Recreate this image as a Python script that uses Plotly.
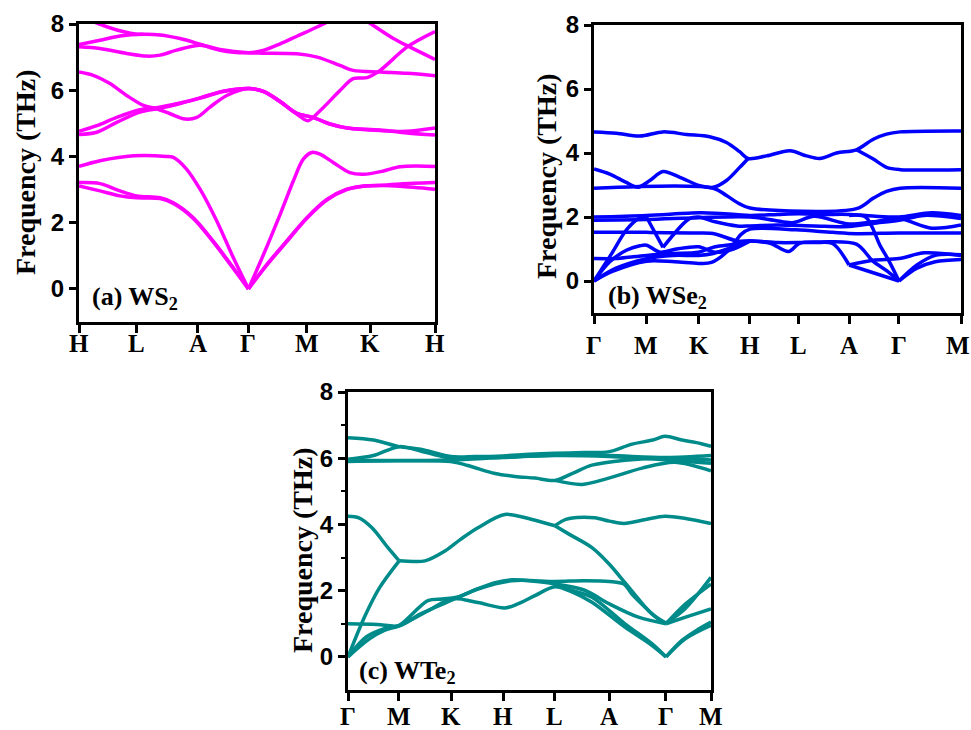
import plotly.graph_objects as go

# ---------------- data ----------------
# (a) WS2 : path H-L-A-Γ-M-K-H
ws2_tick_k = [0, 0.162, 0.334, 0.476, 0.640, 0.818, 1.0]
ws2_tick_lbl = ["H", "L", "A", "Γ", "M", "K", "H"]
ws2_bands = [
    [(0,3.70),(0.059,3.87),(0.153,4.02),(0.246,4.0),(0.265,3.97),(0.302,3.62),(0.340,3.01),(0.387,2.05),(0.434,0.93),(0.476,0)],
    [(0.476,0),(0.518,1.03),(0.565,2.25),(0.602,3.26),(0.630,3.92),(0.654,4.12),(0.677,4.07),(0.714,3.82),(0.761,3.51),(0.799,3.46),(0.855,3.56),(0.902,3.69),(1.0,3.70)],
    [(0,3.21),(0.059,3.18),(0.115,2.96),(0.162,2.81),(0.228,2.75),(0.265,2.6),(0.321,2.15),(0.377,1.44),(0.434,0.63),(0.476,0)],
    [(0,3.11),(0.059,2.96),(0.115,2.81),(0.162,2.75),(0.228,2.73),(0.265,2.58),(0.321,2.13),(0.377,1.42),(0.434,0.61),(0.476,0)],
    [(0.476,0),(0.527,0.73),(0.583,1.44),(0.640,2.15),(0.696,2.7),(0.752,3.01),(0.799,3.11),(0.855,3.13),(0.902,3.17),(1.0,3.21)],
    [(0.476,0),(0.527,0.71),(0.583,1.42),(0.640,2.13),(0.696,2.68),(0.752,3.0),(0.799,3.1),(0.855,3.12),(0.902,3.1),(1.0,3.01)],
    [(0,6.55),(0.040,6.45),(0.087,6.20),(0.134,5.84),(0.181,5.54),(0.218,5.44),(0.256,5.29),(0.298,5.13),(0.331,5.18),(0.368,5.49),(0.415,5.84),(0.476,6.05),(0.52,5.95),(0.565,5.65),(0.612,5.28),(0.643,5.08),(0.677,5.38),(0.733,5.99),(0.770,6.35),(0.809,6.38),(0.846,6.6),(0.921,7.3),(1.0,7.77)],
    [(0,4.76),(0.050,4.93),(0.106,5.18),(0.171,5.41),(0.218,5.47),(0.274,5.59),(0.340,5.77),(0.405,5.97),(0.476,6.05),(0.52,5.96),(0.565,5.66),(0.612,5.3),(0.657,5.18),(0.705,4.98),(0.753,4.86),(0.846,4.8),(0.921,4.71),(1.0,4.65)],
    [(0,4.66),(0.050,4.73),(0.106,5.03),(0.171,5.34),(0.218,5.44),(0.274,5.57),(0.340,5.76),(0.405,5.96),(0.476,6.05),(0.52,5.96),(0.565,5.66),(0.612,5.3),(0.657,5.18),(0.705,4.98),(0.753,4.86),(0.846,4.78),(0.921,4.76),(1.0,4.86)],
    [(0,7.38),(0.059,7.51),(0.115,7.64),(0.181,7.69),(0.228,7.67),(0.284,7.56),(0.340,7.39),(0.396,7.21),(0.476,7.13),(0.517,7.2),(0.565,7.4),(0.612,7.63),(0.669,7.91),(0.705,8.1),(0.74,8.3)],
    [(0,7.31),(0.059,7.26),(0.134,7.11),(0.190,7.03),(0.228,7.06),(0.274,7.21),(0.340,7.36),(0.396,7.23),(0.476,7.13),(0.517,7.12),(0.612,7.1),(0.669,7.0),(0.733,6.75),(0.770,6.6),(0.846,6.55),(0.921,6.51),(1.0,6.44)],
    [(0,8.25),(0.067,7.96),(0.12,7.78),(0.163,7.69),(0.181,7.69)],
    [(0.78,8.3),(0.826,7.96),(0.882,7.57),(0.93,7.3),(1.0,6.93)],
]

# (b) WSe2 : path Γ-M-K-H-L-A-Γ-M
wse2_tick_k = [0, 0.143, 0.285, 0.425, 0.558, 0.695, 0.831, 1.0]
wse2_tick_lbl = ["Γ", "M", "K", "H", "L", "A", "Γ", "M"]
wse2_bands = [
    [(0,4.66),(0.061,4.62),(0.125,4.53),(0.188,4.66),(0.252,4.58),(0.315,4.51),(0.361,4.33),(0.397,4.04),(0.42,3.83),(0.47,3.91),(0.534,4.07),(0.579,3.91),(0.615,3.83),(0.661,4.0),(0.715,4.10),(0.761,4.43),(0.797,4.59),(0.834,4.66),(1.0,4.69)],
    [(0,3.50),(0.043,3.34),(0.088,3.08),(0.12,2.93),(0.152,3.14),(0.188,3.42),(0.234,3.24),(0.288,2.98),(0.325,2.93),(0.361,3.14),(0.397,3.55),(0.42,3.83)],
    [(0.715,4.10),(0.761,3.81),(0.797,3.55),(0.834,3.48),(1.0,3.48)],
    [(0,2.90),(0.325,2.90),(0.361,2.67),(0.397,2.41),(0.425,2.28),(0.715,2.26),(0.761,2.59),(0.797,2.80),(0.834,2.90),(1.0,2.90)],
    [(0,2.0),(0.143,2.05),(0.285,2.13),(0.33,2.12),(0.425,2.05),(0.5,2.08),(0.558,2.1),(0.62,2.08),(0.695,2.08),(0.76,2.03),(0.831,2.0),(0.92,2.13),(1.0,2.05)],
    [(0,1.9),(0.143,1.92),(0.285,1.98),(0.425,2.0),(0.49,1.9),(0.54,1.82),(0.6,2.02),(0.695,1.78),(0.76,1.85),(0.831,1.95),(0.92,1.65),(1.0,1.75)],
    [(0,1.52),(0.143,1.52),(0.285,1.5),(0.33,1.47),(0.39,1.25),(0.425,1.25),(0.48,1.18),(0.53,0.92),(0.56,1.18),(0.62,1.22),(0.715,1.15),(0.76,0.62),(0.8,0.3),(0.831,0)],
    [(0.831,0),(0.88,0.4),(0.93,0.6),(1.0,0.67)],
    [(0,0),(0.05,0.3),(0.143,0.62),(0.22,0.6),(0.285,0.55),(0.32,0.58),(0.37,1.0),(0.4,1.45),(0.425,1.62),(0.55,1.6),(0.65,1.52),(0.715,1.48),(0.831,1.5),(1.0,1.5)],
    [(0,0),(0.045,0.8),(0.09,1.62),(0.125,1.97),(0.143,2.0)],
    [(0.143,2.0),(0.188,1.05)],
    [(0.188,1.05),(0.26,1.95),(0.285,2.0),(0.33,1.85),(0.39,1.72),(0.425,1.72),(0.5,1.75),(0.6,1.72),(0.695,1.7),(0.76,1.8),(0.831,1.9),(0.9,2.05),(1.0,1.95)],
    [(0,0.7),(0.06,0.7),(0.1,0.75),(0.143,0.8),(0.21,0.86),(0.285,0.9),(0.33,1.07),(0.38,1.15),(0.425,1.25),(0.5,1.2),(0.6,1.2),(0.65,1.17),(0.695,0.5)],
    [(0.695,0.5),(0.831,0)],
    [(0.695,0.5),(0.76,0.65),(0.831,0.7),(0.9,0.88),(1.0,0.8)],
    [(0,0),(0.043,0.6),(0.088,0.96),(0.125,1.1),(0.143,1.12),(0.18,0.9),(0.225,1.0),(0.285,1.07),(0.33,0.9),(0.38,1.0),(0.425,1.25)],
    [(0,0),(0.06,0.4),(0.143,0.7),(0.215,0.8),(0.285,0.8),(0.325,0.86),(0.38,1.07),(0.425,1.25)],
    [(0.695,2.05),(0.74,2.0),(0.78,1.1),(0.805,0.6),(0.831,0)],
    [(0.831,0),(0.88,0.5),(0.93,0.8),(1.0,0.82)],
]

# (c) WTe2 : path Γ-M-K-H-L-A-Γ-M
wte2_tick_k = [0, 0.140, 0.284, 0.427, 0.570, 0.719, 0.876, 1.0]
wte2_tick_lbl = ["Γ", "M", "K", "H", "L", "A", "Γ", "M"]
wte2_bands = [
    [(0,6.62),(0.07,6.55),(0.141,6.35),(0.2,6.27),(0.283,6.05),(0.35,6.05),(0.426,6.07),(0.5,6.12),(0.57,6.15),(0.65,6.17),(0.72,6.2),(0.78,6.42),(0.84,6.55),(0.873,6.66),(0.92,6.55),(0.96,6.47),(1.0,6.36)],
    [(0,5.97),(0.07,6.08),(0.141,6.35),(0.2,6.22),(0.27,6.03),(0.35,6.02),(0.426,6.03),(0.57,6.1),(0.72,6.08),(0.876,6.02),(1.0,6.08)],
    [(0,5.9),(0.141,5.92),(0.283,5.9),(0.33,5.78),(0.405,5.54),(0.46,5.45),(0.515,5.4),(0.57,5.33),(0.62,5.55),(0.672,5.79),(0.763,5.94),(0.876,6.0),(1.0,5.95)],
    [(0.57,5.33),(0.645,5.21),(0.716,5.39),(0.81,5.7),(0.9,5.88),(1.0,5.62)],
    [(0,5.95),(0.141,5.93),(0.283,5.95),(0.426,6.02),(0.57,6.08),(0.72,6.05),(0.876,5.95),(1.0,5.85)],
    [(0,4.25),(0.03,4.2),(0.066,3.9),(0.11,3.3),(0.141,2.9)],
    [(0.141,2.9),(0.18,2.88),(0.212,2.9),(0.267,3.2),(0.31,3.55),(0.358,3.9),(0.432,4.3),(0.507,4.15),(0.57,3.96)],
    [(0.57,3.96),(0.6,4.15),(0.63,4.21),(0.68,4.2),(0.72,4.1),(0.76,4.03),(0.82,4.15),(0.873,4.25),(0.93,4.18),(1.0,4.03)],
    [(0,0),(0.047,1.24),(0.087,2.09),(0.141,2.9)],
    [(0.57,3.96),(0.61,3.7),(0.672,3.3),(0.72,2.8),(0.763,2.24),(0.80,1.75),(0.837,1.3),(0.876,1.02)],
    [(0.876,1.02),(0.928,1.45),(1.0,2.4)],
    [(0,0),(0.05,0.6),(0.1,0.85),(0.141,0.95),(0.22,1.7),(0.26,1.75),(0.3,1.8),(0.358,2.06),(0.405,2.24),(0.452,2.33),(0.5,2.3),(0.57,2.2),(0.62,2.0),(0.672,1.8),(0.763,1.0),(0.837,0.4),(0.876,0)],
    [(0,0),(0.06,0.55),(0.1,0.8),(0.141,0.94),(0.22,1.39),(0.287,1.76),(0.358,1.64),(0.432,1.48),(0.468,1.6),(0.515,1.85),(0.57,2.12),(0.62,1.95),(0.672,1.65),(0.763,0.9),(0.837,0.35),(0.876,0)],
    [(0,1.0),(0.08,0.98),(0.141,0.94),(0.2,1.3),(0.287,1.72),(0.358,2.05),(0.45,2.3),(0.57,2.28),(0.65,2.3),(0.72,2.28),(0.76,2.2),(0.782,1.9),(0.854,1.15),(0.876,1.0)],
    [(0.57,2.2),(0.65,2.02),(0.72,1.6),(0.8,1.2),(0.876,1.0)],
    [(0.876,1.0),(0.93,1.2),(1.0,1.45)],
    [(0.876,1.0),(0.93,1.6),(1.0,2.2)],
    [(0.876,0),(0.92,0.5),(0.96,0.8),(1.0,1.05)],
    [(0.876,0),(0.93,0.55),(1.0,0.95)],
]

freq_ticks = [0, 2, 4, 6, 8]

# ---------------- figure ----------------
W, H = 971, 730

def px(v):
    return v / W

def py(v):
    return 1 - v / H

fig = go.Figure()

panels = [
    dict(bands=ws2_bands, tk=ws2_tick_k, tl=ws2_tick_lbl, color="#FF00FF",
         xd=(79, 435), yd=(24, 322), label="(a) WS<sub>2</sub>", lab_xy=(90, 298),
         yt_xy=(25, 172), xl_y=343, minor=False),
    dict(bands=wse2_bands, tk=wse2_tick_k, tl=wse2_tick_lbl, color="#0000FF",
         xd=(594, 961), yd=(25, 313), label="(b) WSe<sub>2</sub>", lab_xy=(606, 297),
         yt_xy=(546, 176), xl_y=345, minor=False),
    dict(bands=wte2_bands, tk=wte2_tick_k, tl=wte2_tick_lbl, color="#008B8B",
         xd=(348, 711), yd=(392, 690), label="(c) WTe<sub>2</sub>", lab_xy=(357, 672),
         yt_xy=(302, 550), xl_y=716, minor=True),
]

layout = dict(width=W, height=H, margin=dict(l=0, r=0, t=0, b=0, autoexpand=False),
              paper_bgcolor="white", plot_bgcolor="white", showlegend=False)
annotations = []

for i, p in enumerate(panels):
    n = "" if i == 0 else str(i + 1)
    xa, ya = "x" + n, "y" + n
    for band in p["bands"]:
        fig.add_trace(go.Scatter(
            x=[pt[0] for pt in band], y=[pt[1] for pt in band],
            mode="lines", line=dict(color=p["color"], width=3.5, shape="spline", smoothing=0.9),
            xaxis=xa, yaxis=ya, hoverinfo="skip"))
    layout["xaxis" + n] = dict(
        domain=[px(p["xd"][0]), px(p["xd"][1])], anchor=ya, range=[0, 1],
        tickvals=p["tk"], showticklabels=False, ticks="outside", ticklen=8, tickwidth=2.5,
        tickcolor="black", showline=True, linewidth=3, linecolor="black", mirror=True,
        showgrid=False, zeroline=False, automargin=False)
    ya_dict = dict(
        domain=[py(p["yd"][1]), py(p["yd"][0])], anchor=xa, range=[-1, 8],
        tickvals=freq_ticks, ticks="outside", ticklen=7, tickwidth=2.5, tickcolor="black",
        showline=True, linewidth=3, linecolor="black", mirror=True,
        showgrid=False, zeroline=False, automargin=False,
        tickfont=dict(family="Liberation Sans", size=24, color="black", weight="bold"))
    if p["minor"]:
        ya_dict["minor"] = dict(tickvals=[1, 3, 5, 7], ticks="outside", ticklen=4,
                                tickwidth=2, tickcolor="black")
    layout["yaxis" + n] = ya_dict
    # high-symmetry point labels
    last = len(p["tk"]) - 1
    for j, (k, lbl) in enumerate(zip(p["tk"], p["tl"])):
        annotations.append(dict(
            text=lbl, x=k, xref=xa, y=py(p["xl_y"]), yref="paper", showarrow=False,
            xanchor="center", yanchor="middle", xshift=(-3 if (i == 1 and j == last) else 0),
            font=dict(family="Liberation Serif", size=25, color="black", weight="bold")))
    annotations.append(dict(
        text="Frequency (THz)", x=px(p["yt_xy"][0]), y=py(p["yt_xy"][1]),
        xref="paper", yref="paper", textangle=-90, showarrow=False,
        xanchor="center", yanchor="middle",
        font=dict(family="Liberation Serif", size=28, color="black", weight="bold")))
    annotations.append(dict(
        text=p["label"], x=px(p["lab_xy"][0]), y=py(p["lab_xy"][1]),
        xref="paper", yref="paper", showarrow=False,
        xanchor="left", yanchor="middle",
        font=dict(family="Liberation Serif", size=26, color="black", weight="bold")))

layout["annotations"] = annotations
fig.update_layout(**layout)
fig.write_html("out.html", config={"displayModeBar": False},
               post_script="document.body.style.margin='0px';document.body.style.overflow='hidden';")
